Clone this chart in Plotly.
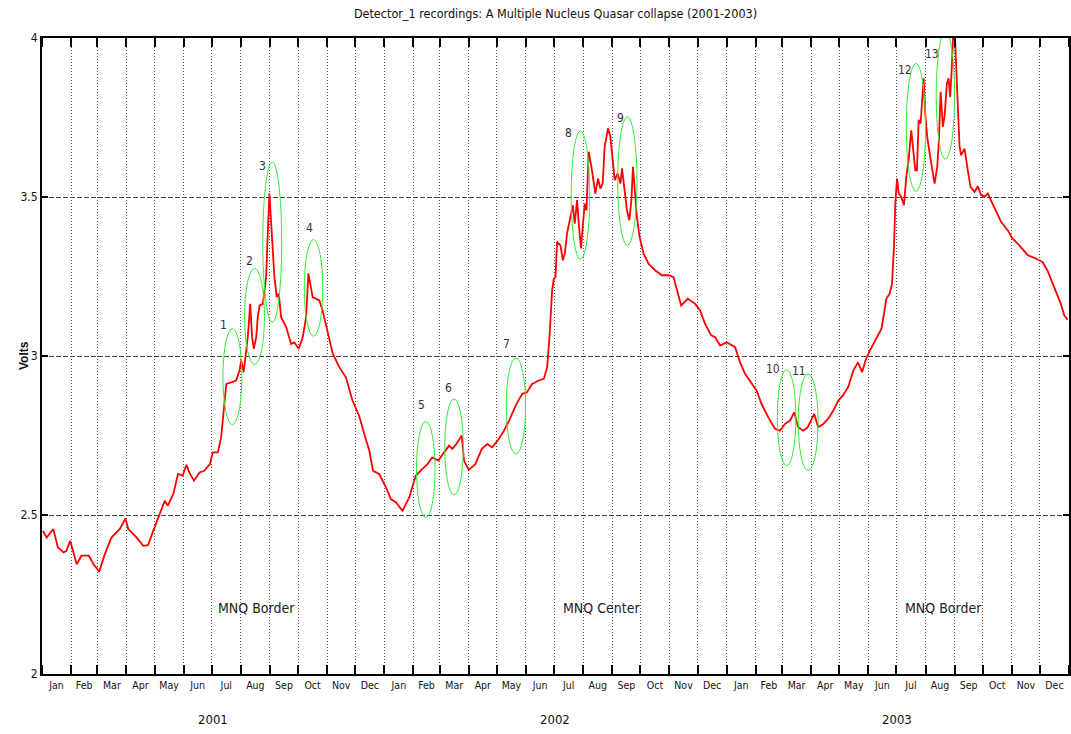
import pandas as pd
import plotly.graph_objects as go

# ---- data: days since 2001-01-01 and detector voltage ----
day = [1, 5, 12, 17, 23, 26, 30, 37, 42, 50, 55, 61, 67, 74, 83, 89, 92, 101, 108, 113,
       120, 125.5, 131, 134, 140, 145, 150, 154, 157, 162, 168, 173, 179, 182, 187.5, 191,
       193.6, 196.5, 201.8, 207, 210.6, 212.4, 215, 217, 219.4, 222, 224, 225.8, 228.4, 230,
       232, 235.4, 239, 240.7, 242.5, 245, 247.8, 250.3, 252.4, 255, 260.3, 265.6, 269, 273.7,
       278, 281.6, 284, 288.6, 295.7, 299.2, 302.8, 310, 317, 324, 331, 338, 343.6, 349, 353,
       359.5, 366.7, 372, 377.3, 384.3, 391.5, 398.6, 405.6, 411, 416, 422.6, 428.7, 434,
       437.5, 441.8, 447.5, 450, 455, 462, 469, 474.7, 480, 487, 492.5, 498, 505, 512, 517,
       522.6, 529.7, 535, 538.6, 541.1, 543.9, 545.7, 547.5, 549.2, 552.8, 555.3, 557.4,
       559.8, 563.4, 565.9, 568, 570.5, 572.3, 574.7, 576.8, 578.7, 580.5, 582.9, 585.8,
       588.2, 590, 592.8, 595.4, 597.8, 599.9, 603.5, 606, 608.5, 610.6, 613.8, 616.7, 618.4,
       621.2, 623.7, 626.2, 628.4, 630.1, 631.8, 634.3, 637.2, 641.4, 646.7, 654, 661, 668,
       673.3, 677, 681.5, 688.6, 696.4, 701.7, 707, 713.5, 717.7, 723, 730, 739, 744.3,
       749.6, 756.6, 762, 767.2, 774.4, 781.5, 786.8, 792, 797.5, 802, 806.3, 811.6, 816.2,
       823.3, 827.6, 833, 838, 843.6, 849, 854, 859.5, 865, 870, 874.4, 878, 882.6, 889.6,
       895, 897.8, 900.2, 903.8, 906.3, 908.4, 909.8, 911.6, 913.4, 916.2, 919, 921.5, 924,
       926.8, 929.3, 931.1, 932.9, 934.7, 936.8, 938.2, 940, 941.7, 943.8, 946.4, 949.2,
       951.7, 954.5, 956.3, 958.1, 960.5, 962.3, 964.8, 966.6, 968.3, 970.1, 971.5, 973.6,
       975.8, 978.3, 980, 983.6, 987.1, 990, 994.3, 997.8, 1001.3, 1004.9, 1008.4, 1011.9,
       1017.3, 1022.6, 1029.7, 1035, 1042, 1051, 1060, 1067, 1072, 1079.4, 1086.3, 1089.9,
       1093.5]
volts = [2.450, 2.429, 2.456, 2.398, 2.382, 2.387, 2.419, 2.345, 2.372, 2.372, 2.345, 2.322,
         2.377, 2.429, 2.456, 2.489, 2.456, 2.429, 2.403, 2.405, 2.461, 2.503, 2.545, 2.529,
         2.566, 2.629, 2.624, 2.658, 2.634, 2.608, 2.634, 2.639, 2.660, 2.697, 2.697, 2.744,
         2.828, 2.912, 2.917, 2.923, 2.954, 2.986, 2.949, 2.996, 3.059, 3.164, 3.059, 3.023,
         3.059, 3.122, 3.159, 3.164, 3.248, 3.385, 3.511, 3.385, 3.248, 3.185, 3.196, 3.122,
         3.091, 3.038, 3.043, 3.023, 3.059, 3.122, 3.260, 3.185, 3.175, 3.143, 3.096, 3.007,
         2.965, 2.933, 2.860, 2.813, 2.755, 2.702, 2.639, 2.629, 2.587, 2.550, 2.540, 2.513,
         2.555, 2.624, 2.645, 2.660, 2.681, 2.671, 2.697, 2.718, 2.708, 2.723, 2.750, 2.671,
         2.642, 2.660, 2.708, 2.723, 2.713, 2.739, 2.765, 2.797, 2.844, 2.881, 2.886, 2.912,
         2.923, 2.928, 2.965, 3.059, 3.206, 3.243, 3.248, 3.359, 3.348, 3.301, 3.322, 3.385,
         3.437, 3.474, 3.416, 3.490, 3.416, 3.338, 3.416, 3.479, 3.458, 3.642, 3.595, 3.553,
         3.511, 3.558, 3.526, 3.542, 3.658, 3.716, 3.690, 3.616, 3.553, 3.574, 3.542, 3.590,
         3.521, 3.458, 3.427, 3.490, 3.595, 3.521, 3.437, 3.374, 3.322, 3.290, 3.269, 3.254,
         3.254, 3.248, 3.206, 3.159, 3.180, 3.164, 3.143, 3.101, 3.065, 3.059, 3.033, 3.043,
         3.028, 2.980, 2.944, 2.912, 2.891, 2.849, 2.807, 2.771, 2.765, 2.786, 2.797, 2.823,
         2.776, 2.765, 2.775, 2.818, 2.776, 2.786, 2.802, 2.828, 2.860, 2.876, 2.902, 2.954,
         2.980, 2.949, 2.986, 3.017, 3.054, 3.085, 3.133, 3.180, 3.196, 3.227, 3.343, 3.479,
         3.558, 3.511, 3.501, 3.474, 3.563, 3.616, 3.710, 3.647, 3.584, 3.584, 3.742, 3.731,
         3.784, 3.873, 3.763, 3.690, 3.637, 3.584, 3.542, 3.595, 3.679, 3.831, 3.721, 3.753,
         3.857, 3.873, 3.815, 3.910, 4.020, 3.990, 3.815, 3.658, 3.631, 3.652, 3.584, 3.532,
         3.516, 3.534, 3.506, 3.501, 3.511, 3.490, 3.453, 3.422, 3.395, 3.369, 3.348, 3.317,
         3.306, 3.295, 3.269, 3.217, 3.164, 3.128, 3.114]

# ---- highlighted events (ellipses): center day, center volts, half-width days, half-height volts
event_ids = ["1", "2", "3", "4", "5", "6", "7", "8", "9", "10", "11", "12", "13"]
event_day = [203.0, 226.6, 245.5, 289.5, 409.2, 439.3, 505.3, 574.1, 624.1, 793.9, 816.9, 931.8, 963.2]
event_volt = [2.935, 3.124, 3.358, 3.214, 2.643, 2.714, 2.843, 3.506, 3.550, 2.806, 2.792, 3.719, 3.820]
event_hw = [10.1, 10.6, 10.1, 9.8, 9.9, 9.9, 10.3, 9.9, 10.3, 9.9, 10.6, 10.3, 9.8]
event_hh = [0.151, 0.151, 0.252, 0.152, 0.151, 0.151, 0.151, 0.202, 0.202, 0.151, 0.152, 0.201, 0.201]
label_day = [193.9, 221.3, 235.4, 285.1, 405.0, 432.9, 495.4, 561.6, 616.6, 779.7, 807.4, 919.8, 949.1]
label_volt = [3.096, 3.299, 3.597, 3.402, 2.847, 2.899, 3.038, 3.700, 3.750, 2.960, 2.954, 3.899, 3.950]

region_text = ["MNQ Border", "MNQ Center", "MNQ Border"]
region_day = [228.7, 596.7, 961.6]
region_volt = 2.208

years = ["2001", "2002", "2003"]
year_mid = ["2001-07-02", "2002-07-02", "2003-07-02"]

BASE = pd.Timestamp("2001-01-01")


def to_date(d):
    return (BASE + pd.to_timedelta(d, unit="D")).strftime("%Y-%m-%d %H:%M:%S")


FONT = "Liberation Sans Narrow, Arial Narrow, DejaVu Sans Condensed, sans-serif"

x_dates = [to_date(d) for d in day]

fig = go.Figure()
fig.add_trace(go.Scatter(x=x_dates, y=volts, mode="lines",
                         line=dict(color="#ff0000", width=1.8), hoverinfo="x+y",
                         showlegend=False))

shapes = []
annotations = []
for i, lab in enumerate(event_ids):
    shapes.append(dict(type="circle", xref="x", yref="y",
                       x0=to_date(event_day[i] - event_hw[i]), x1=to_date(event_day[i] + event_hw[i]),
                       y0=event_volt[i] - event_hh[i], y1=event_volt[i] + event_hh[i],
                       line=dict(color="#33ee33", width=1)))
    annotations.append(dict(x=to_date(label_day[i]), y=label_volt[i], xref="x", yref="y",
                            text=lab, showarrow=False,
                            font=dict(family=FONT, size=12, color="#333333")))

for t, d in zip(region_text, region_day):
    annotations.append(dict(x=to_date(d), y=region_volt, xref="x", yref="y", text=t,
                            showarrow=False, font=dict(family=FONT, size=14, color="#222222")))

for y, m in zip(years, year_mid):
    annotations.append(dict(x=m, y=0, xref="x", yref="paper", yanchor="top", yshift=-36,
                            text=y, showarrow=False,
                            font=dict(family=FONT, size=13, color="#111111")))

annotations.append(dict(x=0, y=0.5, xref="paper", yref="paper", xshift=-27, text="<b>Volts</b>",
                        textangle=-90, showarrow=False,
                        font=dict(family="Liberation Sans, Arial, sans-serif", size=12, color="#111111")))

fig.update_layout(
    width=1071, height=734,
    margin=dict(l=42, r=0, t=38, b=60),
    paper_bgcolor="white", plot_bgcolor="white",
    title=dict(text="Detector_1 recordings: A Multiple Nucleus Quasar collapse (2001-2003)",
               x=0.5, xref="paper", xanchor="center", y=1 - 14 / 734, yref="container",
               yanchor="middle", font=dict(family=FONT, size=12.5, color="#111111")),
    shapes=shapes, annotations=annotations,
    font=dict(family=FONT, color="#111111"),
    xaxis=dict(type="date", range=["2001-01-01", "2004-01-01"],
               tick0="2001-01-01", dtick="M1", tickformat="%b", ticklabelmode="period",
               ticks="inside", ticklen=9, tickwidth=1.5, tickcolor="black",
               showline=True, linecolor="black", linewidth=2, mirror="ticks",
               showgrid=True, gridcolor="#555555", gridwidth=1, griddash="1px,2px",
               zeroline=False, tickfont=dict(family=FONT, size=10.5, color="#111111")),
    yaxis=dict(range=[2, 4], tickvals=[2, 2.5, 3, 3.5, 4], ticktext=["2", "2.5", "3", "3.5", "4"],
               ticks="inside", ticklen=6, tickwidth=1.5, tickcolor="black",
               showline=True, linecolor="black", linewidth=2, mirror="ticks",
               showgrid=True, gridcolor="#444444", gridwidth=1.3, griddash="5px,2px",
               zeroline=False, tickfont=dict(family=FONT, size=12, color="#111111")),
)

fig.write_html("out.html")
